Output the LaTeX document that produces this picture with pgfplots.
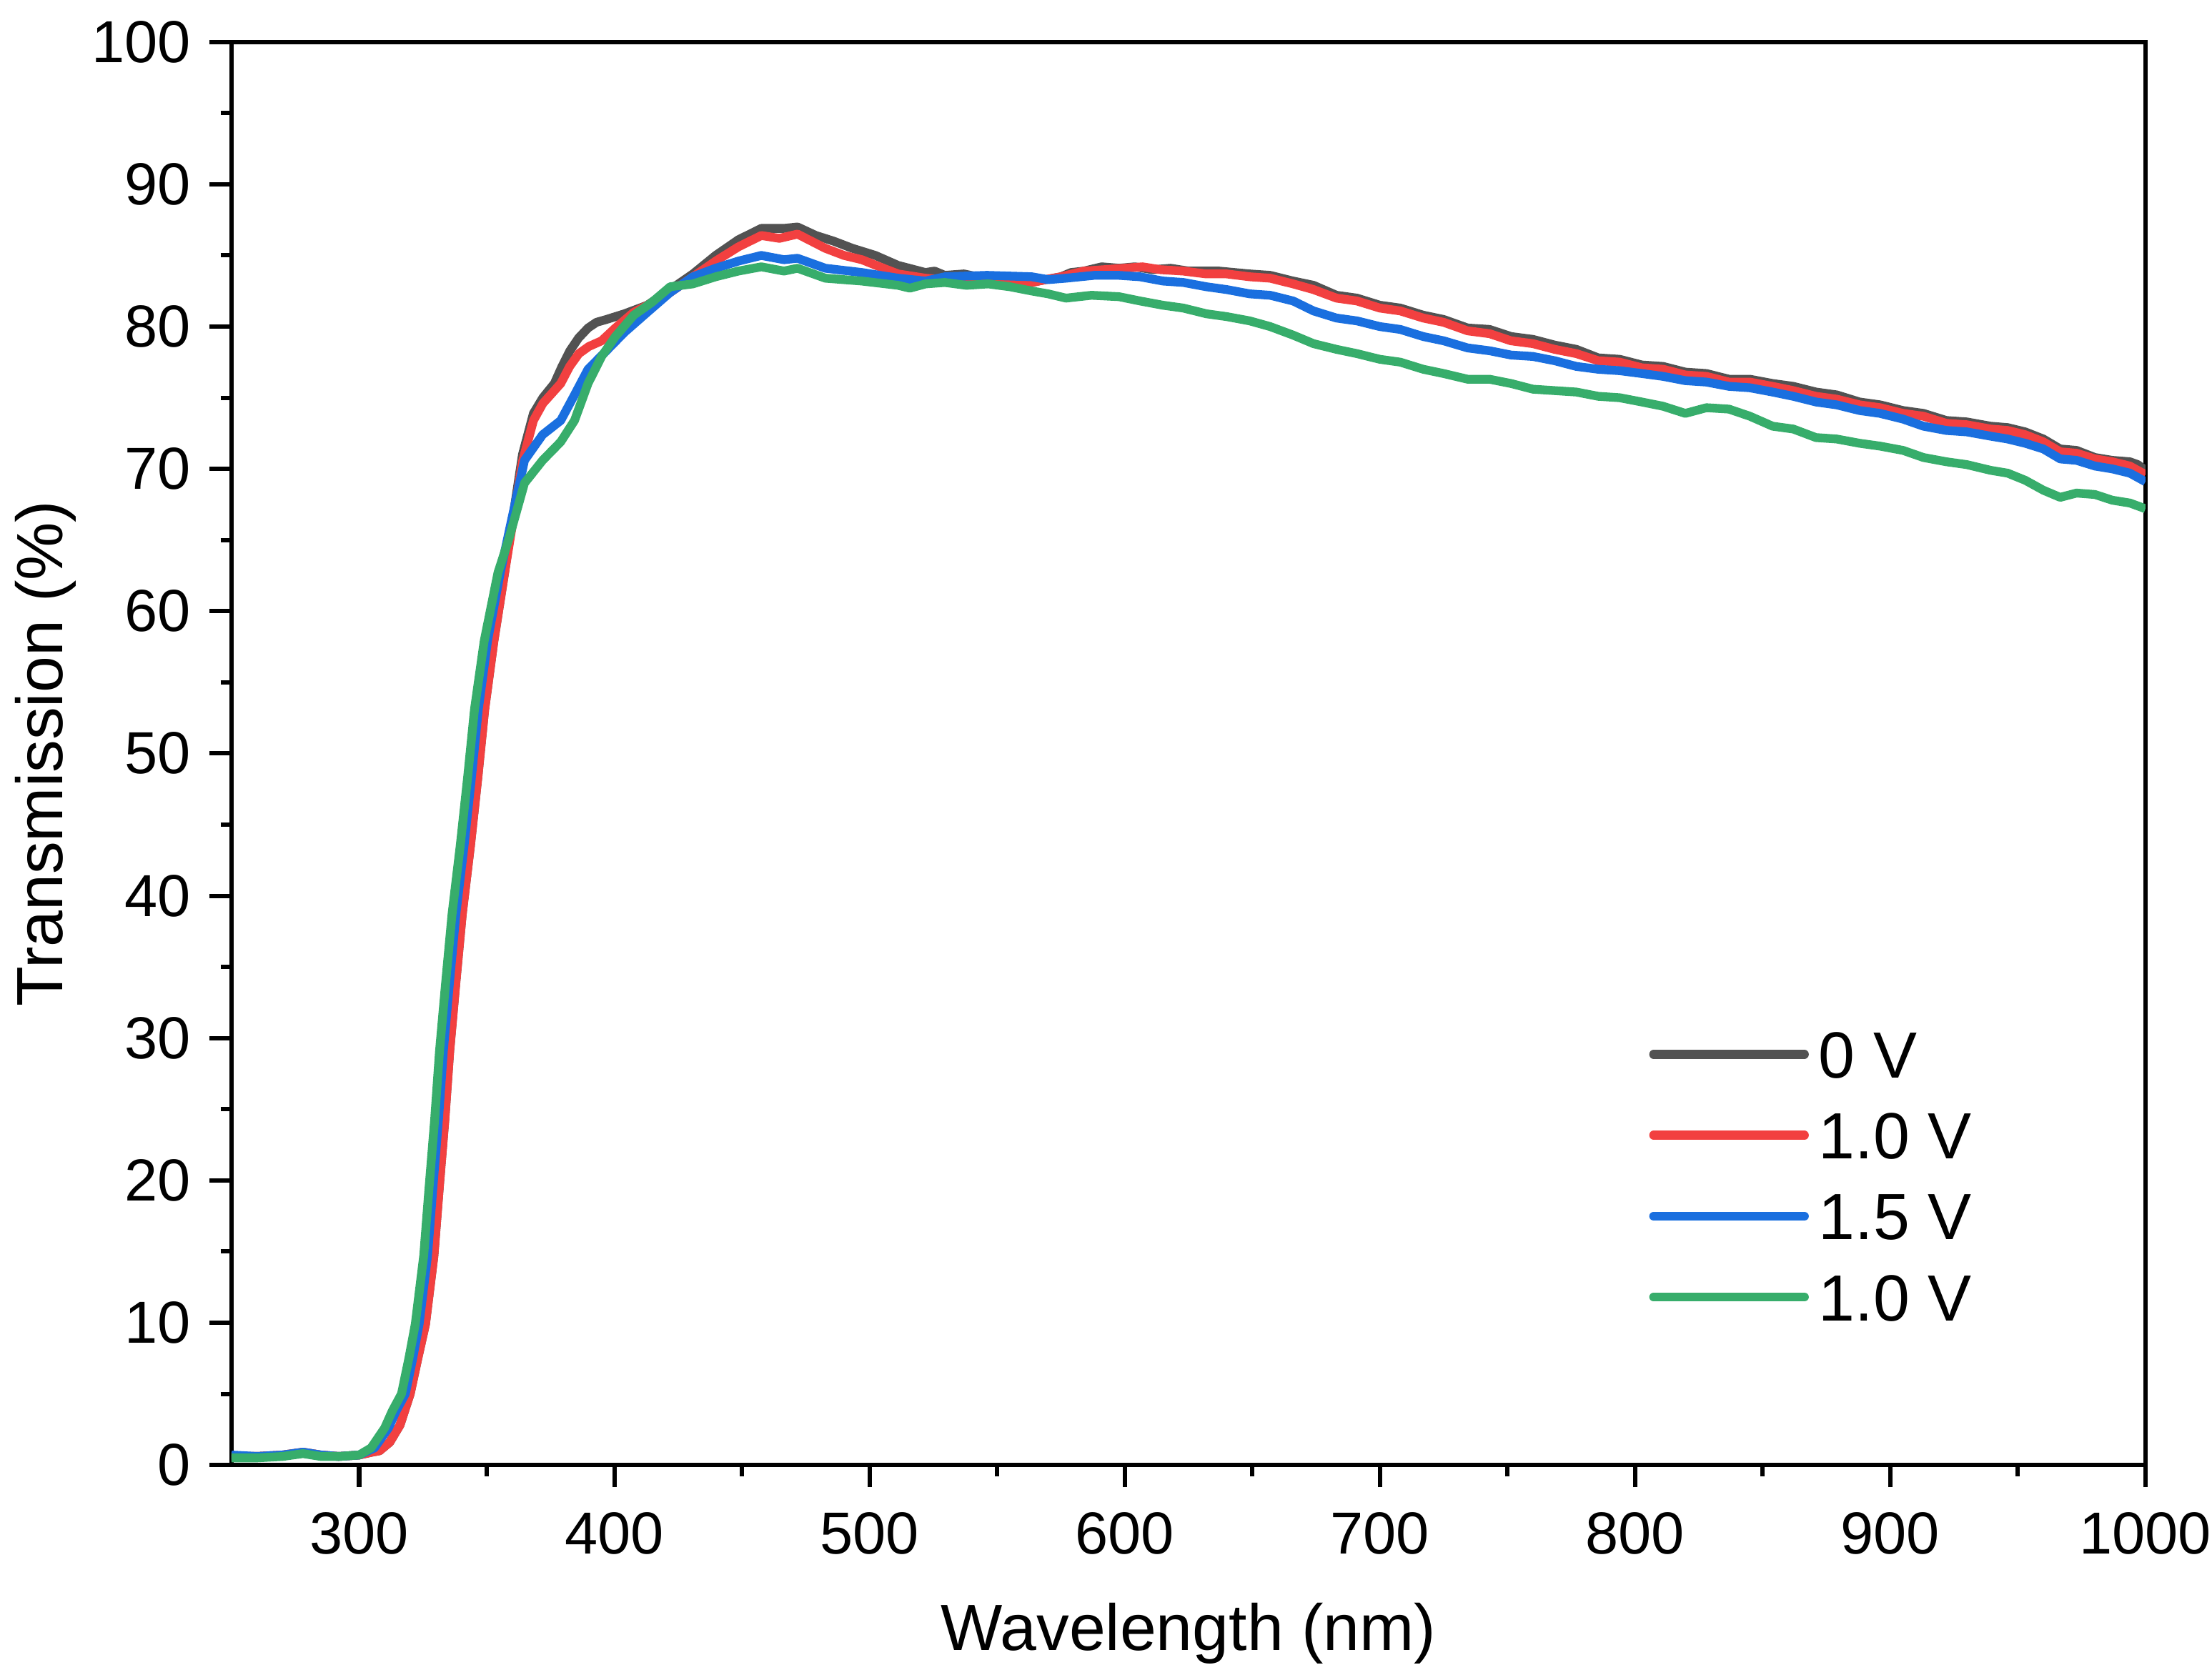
\documentclass[border=0pt]{standalone}
\usepackage{fontspec}
\setmainfont{Liberation Sans}
\usepackage{pgfplots}
\pgfplotsset{compat=1.18}
\definecolor{cblack}{HTML}{525252}
\definecolor{cred}{HTML}{F24040}
\definecolor{cblue}{HTML}{1A6FDF}
\definecolor{cgreen}{HTML}{37AD6B}
\begin{document}
\begin{tikzpicture}
\path[use as bounding box] (-46.06pt,-41.65pt) rectangle (393.94pt,291.45pt);
\begin{axis}[
  scale only axis,
  width=380.7pt, height=283.1pt,
  xmin=250, xmax=1000, ymin=0, ymax=100,
  xtick={300,400,...,1000},
  ytick={0,10,...,100},
  minor x tick num=1, minor y tick num=1,
  xtick pos=left, ytick pos=left,
  tick align=outside,
  major tick length=4.4pt, minor tick length=2.2pt,
  axis line style={line width=0.86pt},
  every tick/.style={line width=0.86pt, black},
  /pgf/number format/assume math mode=true,
  /pgf/number format/set thousands separator={},
  tick label style={font=\fontsize{11.8}{12}\selectfont},
  xticklabel style={anchor=north, yshift=-1.5pt},
  yticklabel style={anchor=east, xshift=-0.2pt},
  xlabel={Wavelength (nm)},
  ylabel={Transmission (\%)},
  every axis x label/.style={at={(rel axis cs:0.5,0)}, yshift=-33.5pt, anchor=center, font=\fontsize{13}{13}\selectfont},
  every axis y label/.style={at={(rel axis cs:0,0.5)}, xshift=-37pt, rotate=90, anchor=center, font=\fontsize{13}{13}\selectfont},
  legend image code/.code={\draw[#1, line cap=round] (0pt,0pt) -- (30pt,0pt);},
  legend style={draw=none, fill=none, inner sep=0pt, at={(rel axis cs:0.7402,0.2033)}, anchor=west,
    font=\fontsize{13}{13}\selectfont, row sep=6.7pt,
    nodes={inner sep=0pt, text height=9.4pt, text depth=0pt}, column sep=2pt},
  legend cell align=left,
  every axis plot/.append style={line width=1.75pt, line join=round},
]
\addplot[cblack] coordinates {
(250,0.6)(260,0.6)(270,0.7)(278,0.9)(285,0.7)(292,0.6)(300,0.7)(305,0.9)(308,1.0)(312,1.6)(316,2.8)(320,5.0)(323,7.5)(326,9.9)(329.3,14.7)(331.4,19.5)(333.6,24.3)(335.5,29.1)(337.9,33.9)(340.4,38.7)(343.6,43.5)(346.5,48.3)(349.2,53.1)(352.8,57.9)(357,62.7)(360,66.3)(364,71.0)(368.3,73.9)(372,75.0)(376.5,76.0)(379.5,77.2)(382.6,78.3)(386,79.2)(389.7,79.9)(393,80.3)(396.9,80.5)(404,80.9)(412.9,81.5)(421.9,82.6)(430.8,83.7)(439.7,85.0)(448.6,86.1)(457.6,86.9)(466.5,86.9)(471.8,87.0)(479,86.4)(486,86.0)(493.3,85.5)(502.3,85.0)(511.2,84.3)
(521.9,83.8)(525.5,83.9)(529.5,83.6)(537,83.7)(545,83.4)(554,83.5)(563.6,83.1)(569,83.3)(575,83.5)(579,83.8)(584,83.9)(591,84.2)(597.8,84.1)(604,84.2)(611,84.0)(618,84.1)(625,83.9)(637,83.9)(649,83.7)(657,83.6)(666,83.2)(674,82.9)(683,82.2)(691,82.0)(700,81.5)(708,81.3)(717,80.8)(725,80.5)(734.4,79.9)(743,79.8)(751.4,79.3)(760,79.1)(768.5,78.7)(777,78.4)(785.6,77.8)(794,77.7)(802.7,77.3)(811,77.2)(819.7,76.8)(828,76.7)(836.8,76.3)(845,76.3)(853.9,76.0)(862,75.8)(870.9,75.4)(879,75.2)(888,74.7)(896,74.5)(905,74.1)(913,73.9)(922,73.4)(930,73.3)(939.3,73.0)(946,72.9)(952.9,72.6)(960,72.1)(966.6,71.4)(973,71.3)(980.2,70.8)(987,70.6)(993.9,70.5)(997,70.3)(1000,69.9)
};
\addlegendentry{0 V}
\addplot[cred] coordinates {
(250,0.6)(260,0.6)(270,0.7)(278,0.9)(285,0.7)(292,0.6)(300,0.7)(305,0.9)(308,1.0)(312,1.6)(316,2.8)(320,5.0)(323,7.5)(326,9.9)(329.3,14.7)(331.4,19.5)(333.6,24.3)(335.5,29.1)(337.9,33.9)(340.4,38.7)(343.6,43.5)(346.5,48.3)(349.2,53.1)(352.8,57.9)(357,62.7)(360,66.0)(364,70.5)(368.3,73.4)(372,74.6)(379,76.0)(382.5,77.2)(386.1,78.1)(390,78.6)(395,79.0)(400.4,79.9)(407.6,81.0)(414,81.6)(421.9,82.4)(430.8,83.5)(439.7,84.6)(448.6,85.6)(457.6,86.4)(464.7,86.2)(471.8,86.5)(482.7,85.5)(490,85.0)(497,84.7)(504,84.2)(511.2,83.7)
(521.9,83.4)(529.5,83.3)(537,83.3)(545,83.2)(554,83.3)(563.6,83.1)(569,83.3)(575,83.5)(584,83.9)(592,84.0)(600,84.1)(607,84.2)(614,84.0)(623,83.9)(632,83.7)(640,83.7)(649,83.5)(657,83.4)(666,83.0)(674,82.6)(683,82.0)(691,81.8)(700,81.3)(708,81.1)(717,80.6)(725,80.3)(734.4,79.7)(743,79.5)(751.4,79.0)(760,78.8)(768.5,78.4)(777,78.1)(785.6,77.6)(794,77.5)(802.7,77.1)(811,77.0)(819.7,76.6)(828,76.5)(836.8,76.1)(845,76.1)(853.9,75.8)(862,75.5)(870.9,75.1)(879,74.9)(888,74.5)(896,74.3)(905,73.9)(913,73.7)(922,73.2)(930,73.1)(939.3,72.8)(946,72.7)(952.9,72.4)(960,71.9)(966.6,71.2)(973,71.1)(980.2,70.7)(987,70.5)(993.9,70.2)(1000,69.6)
};
\addlegendentry{1.0 V}
\addplot[cblue] coordinates {
(250,0.7)(260,0.6)(270,0.7)(278,0.9)(285,0.7)(292,0.6)(300,0.7)(306,1.2)(311.5,2.6)(314.5,3.8)(318.1,5.0)(321,7.5)(323.5,9.9)(326.8,14.7)(328.9,19.5)(331.1,24.3)(333,29.1)(335.4,33.9)(337.9,38.7)(341.1,43.5)(344,48.3)(346.7,53.1)(350.3,57.9)(355.3,62.7)(359,65.8)(364.8,70.6)(371.9,72.4)(379,73.4)(384.4,75.2)(389.7,77.0)(396.9,78.3)(404,79.6)(412.9,81.0)(421.9,82.4)(430.8,83.5)(439.7,84.1)(448.6,84.6)(457.6,85.0)(466.5,84.7)(471.8,84.8)(482.7,84.1)(497,83.8)(511.2,83.4)
(521.9,83.2)(529.5,83.5)(546,83.6)(563.6,83.5)(570,83.3)(577,83.4)(588,83.6)(597.8,83.6)(606,83.5)(615,83.2)(623,83.1)(632,82.8)(640,82.6)(649,82.3)(657,82.2)(666,81.8)(674,81.1)(683,80.6)(691,80.4)(700,80.0)(708,79.8)(717,79.3)(725,79.0)(734.4,78.5)(743,78.3)(751.4,78.0)(760,77.9)(768.5,77.6)(777,77.2)(785.6,77.0)(794,76.9)(802.7,76.7)(811,76.5)(819.7,76.2)(828,76.1)(836.8,75.8)(845,75.7)(853.9,75.4)(862,75.1)(870.9,74.7)(879,74.5)(888,74.1)(896,73.9)(905,73.5)(913,73.0)(922,72.7)(930,72.6)(939.3,72.3)(946,72.1)(952.9,71.8)(960,71.4)(966.6,70.7)(973,70.6)(980.2,70.2)(987,70.0)(993.9,69.7)(1000,69.1)
};
\addlegendentry{1.5 V}
\addplot[cgreen] coordinates {
(250,0.5)(260,0.5)(270,0.6)(278,0.8)(285,0.6)(292,0.6)(300,0.7)(304.7,1.2)(310,2.6)(313,3.8)(316.6,5.0)(319.5,7.5)(322,9.9)(325.3,14.7)(327.4,19.5)(329.6,24.3)(331.5,29.1)(333.9,33.9)(336.4,38.7)(339.6,43.5)(342.5,48.3)(345.2,53.1)(349,57.9)(354.4,62.7)(358.7,65.1)(364.8,69.0)(371.9,70.6)(379,71.9)(384.4,73.4)(389.7,76.0)(395,77.9)(400.4,79.3)(407.6,80.8)(414.7,81.7)(421.9,82.8)(430.8,83.0)(439.7,83.5)(448.6,83.9)(457.6,84.2)(466.5,83.9)(471.8,84.1)(482.7,83.4)(497,83.2)
(511.2,82.9)(515.8,82.7)(522,83.0)(529.5,83.1)(538,82.9)(546.5,83.0)(555,82.8)(563.6,82.5)(570,82.3)(577,82.0)(587,82.2)(597.8,82.1)(606,81.8)(615,81.5)(623,81.3)(632,80.9)(640,80.7)(649,80.4)(657,80.0)(666,79.4)(674,78.8)(683,78.4)(691,78.1)(700,77.7)(708,77.5)(717,77.0)(725,76.7)(734.4,76.3)(743,76.3)(751.4,76.0)(760,75.6)(768.5,75.5)(777,75.4)(785.6,75.1)(794,75.0)(802.7,74.7)(811,74.4)(819.7,73.9)(828,74.3)(836.8,74.2)(845,73.7)(853.9,73.0)(862,72.8)(870.9,72.2)(879,72.1)(888,71.8)(896,71.6)(905,71.3)(913,70.8)(922,70.5)(930,70.3)(939.3,69.9)(946,69.7)(952.9,69.2)(960,68.5)(966.6,68.0)(973,68.3)(980.2,68.2)(987,67.8)(993.9,67.6)(1000,67.2)
};
\addlegendentry{1.0 V}
\end{axis}
\end{tikzpicture}
\end{document}
